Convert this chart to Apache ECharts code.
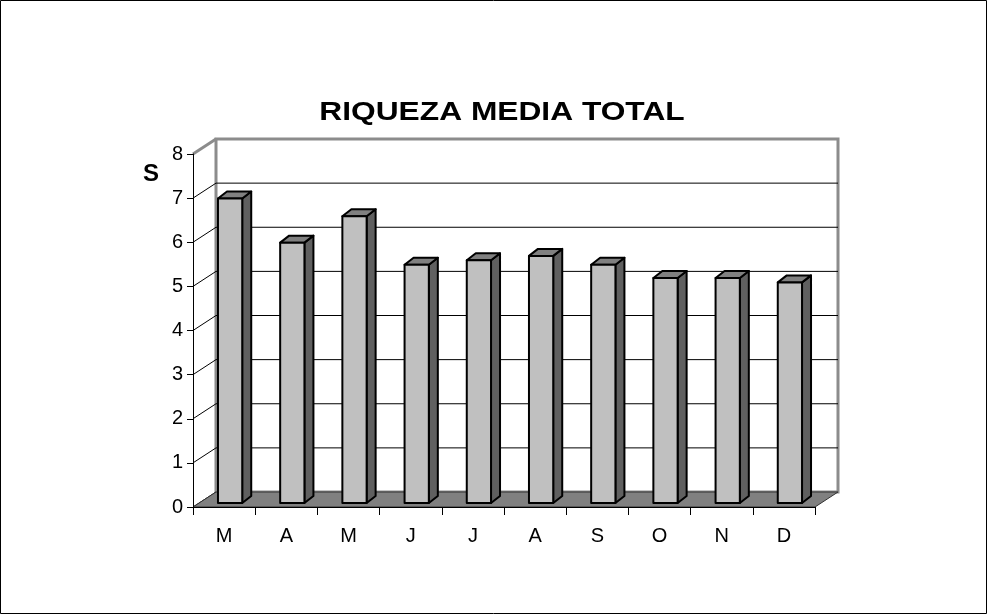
<!DOCTYPE html>
<html>
<head>
<meta charset="utf-8">
<script src="https://cdn.jsdelivr.net/npm/echarts@6/dist/echarts.min.js"></script>
<style>
  html, body { margin: 0; padding: 0; background: #fff; }
  #chart { width: 987px; height: 614px; }
</style>
</head>
<body>
<div id="chart"></div>
<script>
// datos del grafico
var meses = ['M', 'A', 'M', 'J', 'J', 'A', 'S', 'O', 'N', 'D'];
var riqueza = [6.9, 5.9, 6.5, 5.4, 5.5, 5.6, 5.4, 5.1, 5.1, 5.0];
var yMin = 0, yMax = 8, yPaso = 1;

// profundidad del efecto 3D
var PARED_DX = 23, PARED_DY = -15;   // pared de fondo
var BARRA_FX = 6, BARRA_FY = -4;     // cara frontal de la barra
var BARRA_DX = 9, BARRA_DY = -7;     // profundidad de la barra
var font = '"Liberation Sans", Arial, sans-serif';

var chart = echarts.init(document.getElementById('chart'));

function paredes(params, api) {
  var cs = params.coordSys;
  var x = cs.x, w = cs.width, yb = cs.y + cs.height;
  var hijos = [];
  // pared de fondo
  hijos.push({
    type: 'rect',
    shape: { x: x + PARED_DX, y: cs.y + PARED_DY, width: w, height: cs.height },
    style: { fill: '#fff', stroke: '#8c8c8c', lineWidth: 3 }
  });
  for (var k = yMin; k <= yMax; k += yPaso) {
    var yk = api.coord([0, k])[1];
    var gris = (k === yMax);
    if (k > yMin && k < yMax) {
      hijos.push({
        type: 'line',
        shape: { x1: x + PARED_DX, y1: yk + PARED_DY, x2: x + w + PARED_DX, y2: yk + PARED_DY },
        style: { stroke: '#000', lineWidth: 1 }
      });
    }
    hijos.push({
      type: 'line',
      shape: { x1: x, y1: yk, x2: x + PARED_DX, y2: yk + PARED_DY },
      style: { stroke: gris ? '#8c8c8c' : '#000', lineWidth: gris ? 3 : 1 }
    });
  }
  // suelo
  hijos.push({
    type: 'polygon',
    shape: { points: [[x, yb], [x + w, yb], [x + w + PARED_DX, yb + PARED_DY], [x + PARED_DX, yb + PARED_DY]] },
    style: { fill: '#808080', stroke: '#333', lineWidth: 1 }
  });
  return { type: 'group', children: hijos };
}

function barras(params, api) {
  var i = api.value(0), v = api.value(1);
  var base = api.coord([i, 0]);
  var tope = api.coord([i, v]);
  var ancho = api.size([1, 0])[0] * 0.39;
  var x0 = base[0] - ancho / 2 + BARRA_FX, x1 = x0 + ancho;
  var yb = base[1] + BARRA_FY, yt = tope[1] + BARRA_FY;
  var borde = { stroke: '#000', lineWidth: 2, lineJoin: 'round' };
  return {
    type: 'group',
    children: [
      {
        type: 'polygon',
        shape: { points: [[x1, yt], [x1 + BARRA_DX, yt + BARRA_DY], [x1 + BARRA_DX, yb + BARRA_DY], [x1, yb]] },
        style: Object.assign({ fill: '#606060' }, borde)
      },
      {
        type: 'polygon',
        shape: { points: [[x0, yt], [x0 + BARRA_DX, yt + BARRA_DY], [x1 + BARRA_DX, yt + BARRA_DY], [x1, yt]] },
        style: Object.assign({ fill: '#808080' }, borde)
      },
      {
        type: 'rect',
        shape: { x: x0, y: yt, width: ancho, height: yb - yt },
        style: Object.assign({ fill: '#c0c0c0' }, borde)
      }
    ]
  };
}

var option = {
  animation: false,
  backgroundColor: '#fff',
  graphic: [
    {
      type: 'rect',
      shape: { x: 0.5, y: 0.5, width: 986, height: 613 },
      style: { fill: 'none', stroke: '#000', lineWidth: 1 },
      z: 100
    },
    {
      // titulo (ensanchado como en el original)
      type: 'text',
      x: 502,
      y: 113,
      scaleX: 1.22,
      style: { text: 'RIQUEZA MEDIA TOTAL', x: 0, y: 0, textAlign: 'center', textVerticalAlign: 'middle',
               font: 'bold 26px ' + font, fill: '#000' }
    },
    {
      type: 'text',
      style: { text: 'S', x: 151, y: 174, textAlign: 'center', textVerticalAlign: 'middle',
               font: 'bold 24px ' + font, fill: '#000' }
    }
  ],
  grid: { left: 193, right: 172, top: 154, bottom: 107 },
  xAxis: {
    type: 'category',
    data: meses,
    z: 10,
    axisLine: { lineStyle: { color: '#000', width: 1 } },
    axisTick: { show: true, length: 8, lineStyle: { color: '#000' } },
    axisLabel: { fontFamily: font, fontSize: 20, color: '#000', margin: 19 },
    splitLine: { show: false }
  },
  yAxis: {
    type: 'value',
    min: yMin,
    max: yMax,
    interval: yPaso,
    z: 10,
    axisLine: { show: true, lineStyle: { color: '#000', width: 1 } },
    axisTick: { show: true, length: 6, lineStyle: { color: '#000' } },
    axisLabel: { fontFamily: font, fontSize: 20, color: '#000', margin: 10 },
    splitLine: { show: false }
  },
  series: [
    {
      type: 'custom',
      silent: true,
      z: 1,
      renderItem: paredes,
      data: [[0, 0]]
    },
    {
      type: 'custom',
      z: 3,
      renderItem: barras,
      encode: { x: 0, y: 1 },
      data: riqueza.map(function (v, i) { return [i, v]; })
    }
  ]
};

chart.setOption(option);
</script>
</body>
</html>
